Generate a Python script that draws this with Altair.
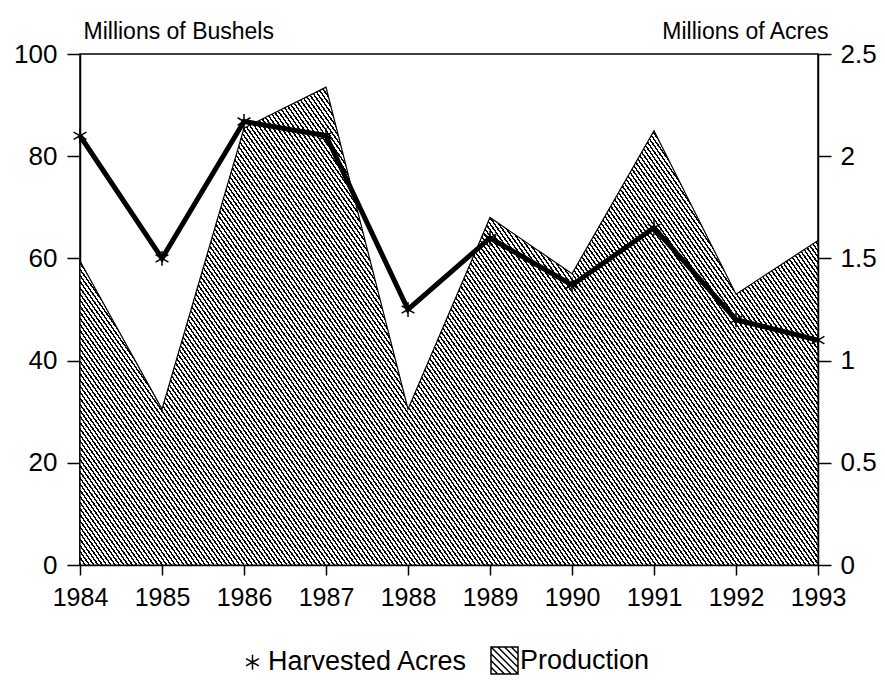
import altair as alt
import pandas as pd

years = [1984, 1985, 1986, 1987, 1988, 1989, 1990, 1991, 1992, 1993]
production = [59.5, 30.5, 85.5, 93.5, 30.5, 68, 57, 85, 53, 63.5]   # millions of bushels
acres = [2.10, 1.50, 2.17, 2.10, 1.25, 1.60, 1.37, 1.65, 1.20, 1.10]  # millions of acres

left_ticks = [0, 20, 40, 60, 80, 100]
right_ticks = [0, 0.5, 1, 1.5, 2, 2.5]
series_names = ["Harvested Acres", "Production"]

df = pd.DataFrame({"year": years, "production": production, "acres": acres})

FONT = "Liberation Sans"

# diagonal hatch built as a striped linear gradient
N = 250
stops = []
for k in range(N):
    a = k / N
    b = (k + 0.42) / N
    c = (k + 1) / N
    stops += [alt.GradientStop(color="black", offset=a),
              alt.GradientStop(color="black", offset=b),
              alt.GradientStop(color="white", offset=b),
              alt.GradientStop(color="white", offset=min(c, 1.0))]
hatch = alt.LinearGradient(gradient="linear", stops=stops,
                           x1=0, y1=1, x2=1.206, y2=0.454)

asterisk = ("M0,-0.55L0,0.55"
            "M-0.476,-0.275L0.476,0.275"
            "M-0.476,0.275L0.476,-0.275")
hatch_box = ("M-1,-1L1,-1L1,1L-1,1Z"
             "M-1,-1L1,1"
             "M-0.5,-1L1,0.5M0,-1L1,0M0.5,-1L1,-0.5"
             "M-1,-0.5L0.5,1M-1,0L0,1M-1,0.5L-0.5,1")

x_enc = alt.X("year:Q", scale=alt.Scale(domain=[1984, 1993], nice=False),
              axis=alt.Axis(values=years, format="d", title=None, labelOverlap=False,
                            labelFlush=False, tickSize=10, labelPadding=10,
                            labelFontSize=25))

area = alt.Chart(df).mark_area(fill=hatch, stroke="black", strokeWidth=1.2).encode(
    x=x_enc,
    y=alt.Y("production:Q", scale=alt.Scale(domain=[0, 100], nice=False),
            axis=alt.Axis(values=left_ticks, title="Millions of Bushels",
                          titleAngle=0, titleAlign="left", titleX=3, titleY=-23,
                          titleBaseline="middle", tickSize=13, labelPadding=10)),
)

acres_y = alt.Y("acres:Q", scale=alt.Scale(domain=[0, 2.5], nice=False),
                axis=alt.Axis(orient="right", values=right_ticks, format="~g",
                              title="Millions of Acres", titleAngle=0,
                              titleAlign="right", titleX=10, titleY=-23,
                              titleBaseline="middle", tickSize=13, labelPadding=9))

line = alt.Chart(df).mark_line(color="black", strokeWidth=5).encode(
    x=x_enc, y=acres_y)

pts = alt.Chart(df).transform_calculate(series="'Harvested Acres'").mark_point(
    filled=False, color="black", strokeWidth=1.5, size=729, opacity=1
).encode(
    x=x_enc, y=acres_y,
    shape=alt.Shape("series:N",
                    scale=alt.Scale(domain=series_names, range=[asterisk, hatch_box]),
                    legend=alt.Legend(title=None, orient="none", direction="horizontal",
                                      legendX=158, legendY=592, padding=0,
                                      symbolSize=729, symbolStrokeWidth=1.5,
                                      symbolStrokeColor="black", symbolFillColor="transparent",
                                      labelFont=FONT, labelFontSize=27, labelColor="black",
                                      labelLimit=0, labelOffset=1, columnPadding=20)),
)

right_layer = alt.layer(line, pts)

chart = alt.layer(area, right_layer).resolve_scale(y="independent").properties(
    width=738, height=511,
    autosize=alt.AutoSizeParams(type="none"),
    padding={"left": 72, "top": 46, "right": 59, "bottom": 118},
    background="white",
).configure_view(stroke="black", strokeWidth=1.5).configure_axis(
    grid=False, domainColor="black", domainWidth=1.5, tickColor="black", tickWidth=1.5,
    labelFont=FONT, labelFontSize=26, labelColor="black",
    titleFont=FONT, titleFontSize=23, titleFontWeight="normal", titleColor="black",
)

chart.save("out.html", embed_options={"renderer": "svg", "actions": False})
